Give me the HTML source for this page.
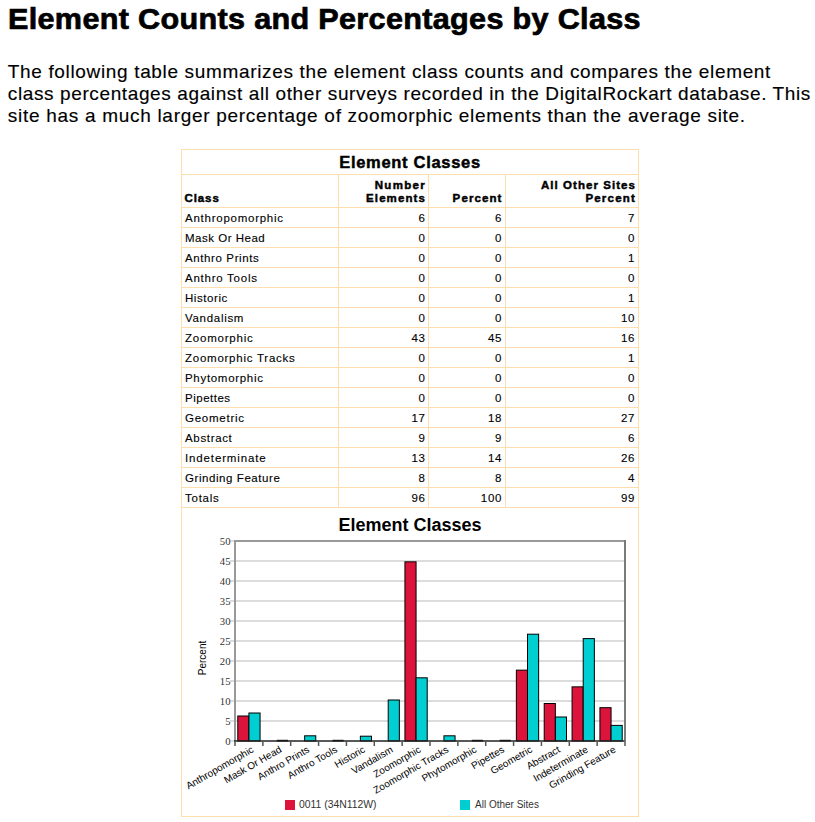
<!DOCTYPE html>
<html><head><meta charset="utf-8"><title>Element Counts and Percentages by Class</title>
<style>
html,body{margin:0;padding:0;background:#fff;}
body{width:815px;height:822px;position:relative;overflow:hidden;font-family:"Liberation Sans",sans-serif;color:#000;}
.a{position:absolute;white-space:pre;}
h1{position:absolute;margin:0;left:7.9px;-webkit-text-stroke:0.7px #000;top:1.8px;font-size:29px;line-height:34px;font-weight:bold;letter-spacing:0.3px;white-space:pre;}
p.intro{position:absolute;margin:0;-webkit-text-stroke:0.15px #000;left:7.8px;top:61px;font-size:19px;line-height:22px;letter-spacing:0.64px;white-space:pre;}
.hl{position:absolute;height:1px;background:#FFDEAD;}
.vl{position:absolute;width:1px;background:#FFDEAD;}
.cell{position:absolute;font-size:11.5px;line-height:14px;letter-spacing:0.75px;-webkit-text-stroke:0.12px #000;white-space:pre;}
.th{position:absolute;font-size:11.5px;line-height:13px;font-weight:bold;letter-spacing:0.9px;-webkit-text-stroke:0.45px #000;white-space:pre;}
.r{text-align:right;}
</style></head><body>
<h1><span style="display:inline-block;transform:scaleX(1.055);transform-origin:0 0">Element Counts and Percentages by Class</span></h1>
<p class="intro"><span style="letter-spacing:0.656px">The following table summarizes the element class counts and compares the element</span>
<span style="letter-spacing:0.615px">class percentages against all other surveys recorded in the DigitalRockart database. This</span>
<span style="letter-spacing:0.706px">site has a much larger percentage of zoomorphic elements than the average site.</span></p>
<div class="hl" style="left:181px;top:149px;width:458px"></div>
<div class="hl" style="left:181px;top:816px;width:458px"></div>
<div class="vl" style="left:181px;top:149px;height:668px"></div>
<div class="vl" style="left:638px;top:149px;height:668px"></div>
<div class="hl" style="left:181px;top:174px;width:458px"></div>
<div class="hl" style="left:181px;top:207px;width:458px"></div>
<div class="hl" style="left:181px;top:227px;width:458px"></div>
<div class="hl" style="left:181px;top:247px;width:458px"></div>
<div class="hl" style="left:181px;top:267px;width:458px"></div>
<div class="hl" style="left:181px;top:287px;width:458px"></div>
<div class="hl" style="left:181px;top:307px;width:458px"></div>
<div class="hl" style="left:181px;top:327px;width:458px"></div>
<div class="hl" style="left:181px;top:347px;width:458px"></div>
<div class="hl" style="left:181px;top:367px;width:458px"></div>
<div class="hl" style="left:181px;top:387px;width:458px"></div>
<div class="hl" style="left:181px;top:407px;width:458px"></div>
<div class="hl" style="left:181px;top:427px;width:458px"></div>
<div class="hl" style="left:181px;top:447px;width:458px"></div>
<div class="hl" style="left:181px;top:467px;width:458px"></div>
<div class="hl" style="left:181px;top:487px;width:458px"></div>
<div class="hl" style="left:181px;top:507px;width:458px"></div>
<div class="vl" style="left:338px;top:174px;height:334px"></div>
<div class="vl" style="left:428px;top:174px;height:334px"></div>
<div class="vl" style="left:505px;top:174px;height:334px"></div>
<div class="a" style="left:182px;top:150px;width:456px;text-align:center;font-size:16.5px;line-height:24px;font-weight:bold;letter-spacing:0.7px;-webkit-text-stroke:0.45px #000;">Element Classes</div>
<div class="th" style="left:184.5px;top:192px;">Class</div>
<div class="th r" style="left:339px;top:179px;width:87px;"><span style="letter-spacing:1.3px">Number</span>
<span style="letter-spacing:1.1px">Elements</span></div>
<div class="th r" style="left:429px;top:192px;width:73.5px;letter-spacing:1.1px">Percent</div>
<div class="th r" style="left:506px;top:179px;width:130px;letter-spacing:1.05px">All Other Sites
<span style="letter-spacing:1.2px">Percent</span></div>
<div class="cell" style="left:185px;top:211px;letter-spacing:0.75px">Anthropomorphic</div><div class="cell r" style="left:339px;top:211px;width:86.7px;">6</div><div class="cell r" style="left:429px;top:211px;width:73.2px;">6</div><div class="cell r" style="left:506px;top:211px;width:129.2px;">7</div>
<div class="cell" style="left:185px;top:231px;letter-spacing:0.51px">Mask Or Head</div><div class="cell r" style="left:339px;top:231px;width:86.7px;">0</div><div class="cell r" style="left:429px;top:231px;width:73.2px;">0</div><div class="cell r" style="left:506px;top:231px;width:129.2px;">0</div>
<div class="cell" style="left:185px;top:251px;letter-spacing:0.61px">Anthro Prints</div><div class="cell r" style="left:339px;top:251px;width:86.7px;">0</div><div class="cell r" style="left:429px;top:251px;width:73.2px;">0</div><div class="cell r" style="left:506px;top:251px;width:129.2px;">1</div>
<div class="cell" style="left:185px;top:271px;letter-spacing:0.75px">Anthro Tools</div><div class="cell r" style="left:339px;top:271px;width:86.7px;">0</div><div class="cell r" style="left:429px;top:271px;width:73.2px;">0</div><div class="cell r" style="left:506px;top:271px;width:129.2px;">0</div>
<div class="cell" style="left:185px;top:291px;letter-spacing:0.57px">Historic</div><div class="cell r" style="left:339px;top:291px;width:86.7px;">0</div><div class="cell r" style="left:429px;top:291px;width:73.2px;">0</div><div class="cell r" style="left:506px;top:291px;width:129.2px;">1</div>
<div class="cell" style="left:185px;top:311px;letter-spacing:0.7px">Vandalism</div><div class="cell r" style="left:339px;top:311px;width:86.7px;">0</div><div class="cell r" style="left:429px;top:311px;width:73.2px;">0</div><div class="cell r" style="left:506px;top:311px;width:129.2px;">10</div>
<div class="cell" style="left:185px;top:331px;letter-spacing:0.79px">Zoomorphic</div><div class="cell r" style="left:339px;top:331px;width:86.7px;">43</div><div class="cell r" style="left:429px;top:331px;width:73.2px;">45</div><div class="cell r" style="left:506px;top:331px;width:129.2px;">16</div>
<div class="cell" style="left:185px;top:351px;letter-spacing:0.75px">Zoomorphic Tracks</div><div class="cell r" style="left:339px;top:351px;width:86.7px;">0</div><div class="cell r" style="left:429px;top:351px;width:73.2px;">0</div><div class="cell r" style="left:506px;top:351px;width:129.2px;">1</div>
<div class="cell" style="left:185px;top:371px;letter-spacing:0.69px">Phytomorphic</div><div class="cell r" style="left:339px;top:371px;width:86.7px;">0</div><div class="cell r" style="left:429px;top:371px;width:73.2px;">0</div><div class="cell r" style="left:506px;top:371px;width:129.2px;">0</div>
<div class="cell" style="left:185px;top:391px;letter-spacing:0.51px">Pipettes</div><div class="cell r" style="left:339px;top:391px;width:86.7px;">0</div><div class="cell r" style="left:429px;top:391px;width:73.2px;">0</div><div class="cell r" style="left:506px;top:391px;width:129.2px;">0</div>
<div class="cell" style="left:185px;top:411px;letter-spacing:0.75px">Geometric</div><div class="cell r" style="left:339px;top:411px;width:86.7px;">17</div><div class="cell r" style="left:429px;top:411px;width:73.2px;">18</div><div class="cell r" style="left:506px;top:411px;width:129.2px;">27</div>
<div class="cell" style="left:185px;top:431px;letter-spacing:0.66px">Abstract</div><div class="cell r" style="left:339px;top:431px;width:86.7px;">9</div><div class="cell r" style="left:429px;top:431px;width:73.2px;">9</div><div class="cell r" style="left:506px;top:431px;width:129.2px;">6</div>
<div class="cell" style="left:185px;top:451px;letter-spacing:0.86px">Indeterminate</div><div class="cell r" style="left:339px;top:451px;width:86.7px;">13</div><div class="cell r" style="left:429px;top:451px;width:73.2px;">14</div><div class="cell r" style="left:506px;top:451px;width:129.2px;">26</div>
<div class="cell" style="left:185px;top:471px;letter-spacing:0.57px">Grinding Feature</div><div class="cell r" style="left:339px;top:471px;width:86.7px;">8</div><div class="cell r" style="left:429px;top:471px;width:73.2px;">8</div><div class="cell r" style="left:506px;top:471px;width:129.2px;">4</div>
<div class="cell" style="left:185px;top:491px;letter-spacing:0.75px">Totals</div><div class="cell r" style="left:339px;top:491px;width:86.7px;">96</div><div class="cell r" style="left:429px;top:491px;width:73.2px;">100</div><div class="cell r" style="left:506px;top:491px;width:129.2px;">99</div>
<svg class="a" style="left:0;top:0" width="815" height="822" viewBox="0 0 815 822">
<text x="410" y="531" text-anchor="middle" font-family="Liberation Sans" font-weight="bold" font-size="18">Element Classes</text>
<line x1="230" y1="721" x2="625" y2="721" stroke="#dcdcdc" stroke-width="2"/>
<line x1="230" y1="701" x2="625" y2="701" stroke="#dcdcdc" stroke-width="2"/>
<line x1="230" y1="681" x2="625" y2="681" stroke="#dcdcdc" stroke-width="2"/>
<line x1="230" y1="661" x2="625" y2="661" stroke="#dcdcdc" stroke-width="2"/>
<line x1="230" y1="641" x2="625" y2="641" stroke="#dcdcdc" stroke-width="2"/>
<line x1="230" y1="621" x2="625" y2="621" stroke="#dcdcdc" stroke-width="2"/>
<line x1="230" y1="601" x2="625" y2="601" stroke="#dcdcdc" stroke-width="2"/>
<line x1="230" y1="581" x2="625" y2="581" stroke="#dcdcdc" stroke-width="2"/>
<line x1="230" y1="561" x2="625" y2="561" stroke="#dcdcdc" stroke-width="2"/>
<line x1="230" y1="741" x2="234" y2="741" stroke="#dcdcdc" stroke-width="2"/>
<line x1="230" y1="541" x2="234" y2="541" stroke="#dcdcdc" stroke-width="2"/>
<text x="230.5" y="744.6" text-anchor="end" font-family="Liberation Serif" font-size="10.67" fill="#333">0</text>
<text x="230.5" y="724.6" text-anchor="end" font-family="Liberation Serif" font-size="10.67" fill="#333">5</text>
<text x="230.5" y="704.6" text-anchor="end" font-family="Liberation Serif" font-size="10.67" fill="#333">10</text>
<text x="230.5" y="684.6" text-anchor="end" font-family="Liberation Serif" font-size="10.67" fill="#333">15</text>
<text x="230.5" y="664.6" text-anchor="end" font-family="Liberation Serif" font-size="10.67" fill="#333">20</text>
<text x="230.5" y="644.6" text-anchor="end" font-family="Liberation Serif" font-size="10.67" fill="#333">25</text>
<text x="230.5" y="624.6" text-anchor="end" font-family="Liberation Serif" font-size="10.67" fill="#333">30</text>
<text x="230.5" y="604.6" text-anchor="end" font-family="Liberation Serif" font-size="10.67" fill="#333">35</text>
<text x="230.5" y="584.6" text-anchor="end" font-family="Liberation Serif" font-size="10.67" fill="#333">40</text>
<text x="230.5" y="564.6" text-anchor="end" font-family="Liberation Serif" font-size="10.67" fill="#333">45</text>
<text x="230.5" y="544.6" text-anchor="end" font-family="Liberation Serif" font-size="10.67" fill="#333">50</text>
<path d="M235 741V541H625" fill="none" stroke="#999" stroke-width="2"/>
<line x1="625" y1="540" x2="625" y2="741" stroke="#7a7a7a" stroke-width="2"/>
<rect x="237.79" y="716.00" width="11.14" height="25.00" fill="#DC143C" stroke="#000" stroke-width="1"/>
<rect x="248.93" y="713.00" width="11.14" height="28.00" fill="#00CED1" stroke="#000" stroke-width="1"/>
<rect x="276.79" y="739.8" width="11.14" height="1.7" fill="#000"/>
<rect x="304.64" y="735.80" width="11.14" height="5.20" fill="#00CED1" stroke="#000" stroke-width="1"/>
<rect x="332.50" y="739.8" width="11.14" height="1.7" fill="#000"/>
<rect x="360.36" y="736.20" width="11.14" height="4.80" fill="#00CED1" stroke="#000" stroke-width="1"/>
<rect x="388.21" y="700.00" width="11.14" height="41.00" fill="#00CED1" stroke="#000" stroke-width="1"/>
<rect x="404.93" y="561.84" width="11.14" height="179.16" fill="#DC143C" stroke="#000" stroke-width="1"/>
<rect x="416.07" y="677.80" width="11.14" height="63.20" fill="#00CED1" stroke="#000" stroke-width="1"/>
<rect x="443.93" y="735.80" width="11.14" height="5.20" fill="#00CED1" stroke="#000" stroke-width="1"/>
<rect x="471.79" y="739.8" width="11.14" height="1.7" fill="#000"/>
<rect x="499.64" y="739.8" width="11.14" height="1.7" fill="#000"/>
<rect x="516.36" y="670.16" width="11.14" height="70.84" fill="#DC143C" stroke="#000" stroke-width="1"/>
<rect x="527.50" y="634.20" width="11.14" height="106.80" fill="#00CED1" stroke="#000" stroke-width="1"/>
<rect x="544.21" y="703.50" width="11.14" height="37.50" fill="#DC143C" stroke="#000" stroke-width="1"/>
<rect x="555.36" y="717.00" width="11.14" height="24.00" fill="#00CED1" stroke="#000" stroke-width="1"/>
<rect x="572.07" y="686.84" width="11.14" height="54.16" fill="#DC143C" stroke="#000" stroke-width="1"/>
<rect x="583.21" y="638.60" width="11.14" height="102.40" fill="#00CED1" stroke="#000" stroke-width="1"/>
<rect x="599.93" y="707.68" width="11.14" height="33.32" fill="#DC143C" stroke="#000" stroke-width="1"/>
<rect x="611.07" y="725.40" width="11.14" height="15.60" fill="#00CED1" stroke="#000" stroke-width="1"/>
<line x1="234" y1="741" x2="624.5" y2="741" stroke="#222" stroke-width="1.5"/>
<line x1="235.00" y1="741" x2="235.00" y2="746" stroke="#555" stroke-width="1.5"/>
<line x1="262.86" y1="741" x2="262.86" y2="746" stroke="#555" stroke-width="1.5"/>
<line x1="290.71" y1="741" x2="290.71" y2="746" stroke="#555" stroke-width="1.5"/>
<line x1="318.57" y1="741" x2="318.57" y2="746" stroke="#555" stroke-width="1.5"/>
<line x1="346.43" y1="741" x2="346.43" y2="746" stroke="#555" stroke-width="1.5"/>
<line x1="374.29" y1="741" x2="374.29" y2="746" stroke="#555" stroke-width="1.5"/>
<line x1="402.14" y1="741" x2="402.14" y2="746" stroke="#555" stroke-width="1.5"/>
<line x1="430.00" y1="741" x2="430.00" y2="746" stroke="#555" stroke-width="1.5"/>
<line x1="457.86" y1="741" x2="457.86" y2="746" stroke="#555" stroke-width="1.5"/>
<line x1="485.71" y1="741" x2="485.71" y2="746" stroke="#555" stroke-width="1.5"/>
<line x1="513.57" y1="741" x2="513.57" y2="746" stroke="#555" stroke-width="1.5"/>
<line x1="541.43" y1="741" x2="541.43" y2="746" stroke="#555" stroke-width="1.5"/>
<line x1="569.29" y1="741" x2="569.29" y2="746" stroke="#555" stroke-width="1.5"/>
<line x1="597.14" y1="741" x2="597.14" y2="746" stroke="#555" stroke-width="1.5"/>
<line x1="625.00" y1="741" x2="625.00" y2="746" stroke="#555" stroke-width="1.5"/>
<text x="254.43" y="751.5" text-anchor="end" transform="rotate(-30 254.43 751.5)" font-family="Liberation Sans" font-size="10" fill="#000">Anthropomorphic</text>
<text x="282.29" y="751.5" text-anchor="end" transform="rotate(-30 282.29 751.5)" font-family="Liberation Sans" font-size="10" fill="#000">Mask Or Head</text>
<text x="310.14" y="751.5" text-anchor="end" transform="rotate(-30 310.14 751.5)" font-family="Liberation Sans" font-size="10" fill="#000">Anthro Prints</text>
<text x="338.00" y="751.5" text-anchor="end" transform="rotate(-30 338.00 751.5)" font-family="Liberation Sans" font-size="10" fill="#000">Anthro Tools</text>
<text x="365.86" y="751.5" text-anchor="end" transform="rotate(-30 365.86 751.5)" font-family="Liberation Sans" font-size="10" fill="#000">Historic</text>
<text x="393.71" y="751.5" text-anchor="end" transform="rotate(-30 393.71 751.5)" font-family="Liberation Sans" font-size="10" fill="#000">Vandalism</text>
<text x="421.57" y="751.5" text-anchor="end" transform="rotate(-30 421.57 751.5)" font-family="Liberation Sans" font-size="10" fill="#000">Zoomorphic</text>
<text x="449.43" y="751.5" text-anchor="end" transform="rotate(-30 449.43 751.5)" font-family="Liberation Sans" font-size="10" fill="#000">Zoomorphic Tracks</text>
<text x="477.29" y="751.5" text-anchor="end" transform="rotate(-30 477.29 751.5)" font-family="Liberation Sans" font-size="10" fill="#000">Phytomorphic</text>
<text x="505.14" y="751.5" text-anchor="end" transform="rotate(-30 505.14 751.5)" font-family="Liberation Sans" font-size="10" fill="#000">Pipettes</text>
<text x="533.00" y="751.5" text-anchor="end" transform="rotate(-30 533.00 751.5)" font-family="Liberation Sans" font-size="10" fill="#000">Geometric</text>
<text x="560.86" y="751.5" text-anchor="end" transform="rotate(-30 560.86 751.5)" font-family="Liberation Sans" font-size="10" fill="#000">Abstract</text>
<text x="588.71" y="751.5" text-anchor="end" transform="rotate(-30 588.71 751.5)" font-family="Liberation Sans" font-size="10" fill="#000">Indeterminate</text>
<text x="616.57" y="751.5" text-anchor="end" transform="rotate(-30 616.57 751.5)" font-family="Liberation Sans" font-size="10" fill="#000">Grinding Feature</text>
<text x="206" y="658" text-anchor="middle" transform="rotate(-90 206 658)" font-family="Liberation Sans" font-size="10" fill="#000">Percent</text>
<rect x="285" y="800" width="10" height="10" fill="#DC143C"/>
<text x="299" y="808" font-family="Liberation Sans" font-size="10.4" fill="#333">0011 (34N112W)</text>
<rect x="460" y="800" width="10" height="10" fill="#00CED1"/>
<text x="475" y="808" font-family="Liberation Sans" font-size="10" fill="#333">All Other Sites</text>
</svg>
</body></html>
